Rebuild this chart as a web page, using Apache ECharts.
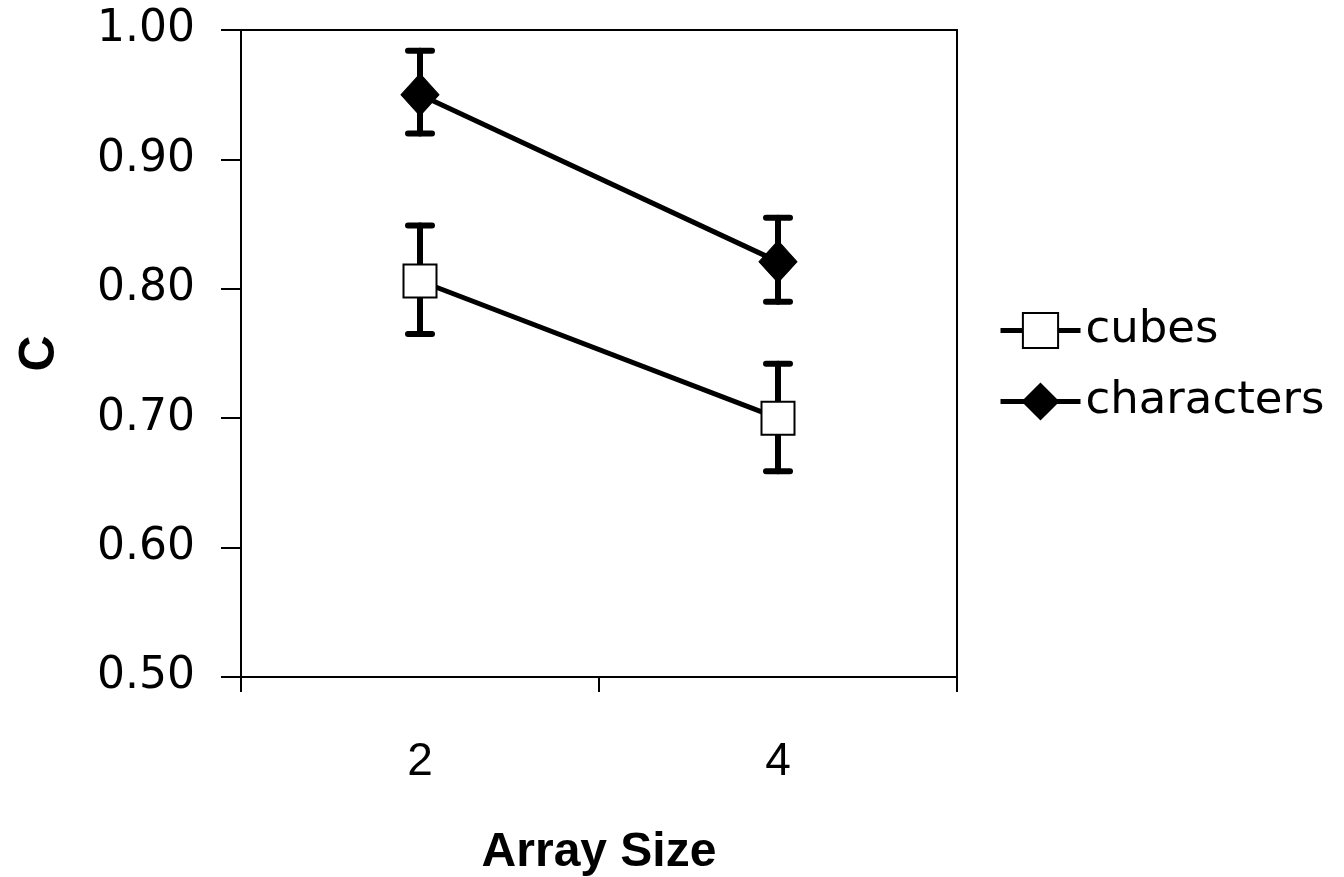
<!DOCTYPE html>
<html>
<head>
<meta charset="utf-8">
<script src="https://cdn.jsdelivr.net/npm/echarts@6/dist/echarts.min.js"></script>
<style>
  html, body { margin: 0; padding: 0; background: #fff; }
</style>
</head>
<body>
<div id="myChart" style="width:1344px;height:877px"></div>
<script>
var categories = ['2', '4'];
var cubes = [0.806, 0.700];
var cubesHigh = [0.849, 0.742];
var cubesLow = [0.765, 0.659];
var characters = [0.950, 0.821];
var charactersHigh = [0.984, 0.855];
var charactersLow = [0.920, 0.790];

var chartDom = document.getElementById('myChart');
var myChart = echarts.init(chartDom);

function errorData(low, high) {
    var out = [];
    for (var i = 0; i < low.length; i++) {
        out.push([i, low[i], high[i]]);
    }
    return out;
}

// vertical bar with caps, drawn under the markers
function renderError(params, api) {
    var x = api.value(0);
    var lo = api.coord([x, api.value(1)]);
    var hi = api.coord([x, api.value(2)]);
    var half = 12;
    var st = { stroke: '#000', lineWidth: 6, lineCap: 'round' };
    return {
        type: 'group',
        children: [
            { type: 'line', shape: { x1: hi[0], y1: hi[1], x2: lo[0], y2: lo[1] }, style: st },
            { type: 'line', shape: { x1: hi[0] - half, y1: hi[1], x2: hi[0] + half, y2: hi[1] }, style: st },
            { type: 'line', shape: { x1: lo[0] - half, y1: lo[1], x2: lo[0] + half, y2: lo[1] }, style: st }
        ]
    };
}

var option = {
    backgroundColor: '#fff',
    animation: false,
    grid: {
        left: 241,
        right: 387,
        top: 30,
        bottom: 200,
        outerBoundsMode: 'none',
        containLabel: false,
        show: true,
        borderColor: '#000',
        borderWidth: 2
    },
    legend: {
        orient: 'vertical',
        left: 993,
        top: 303,
        itemWidth: 80,
        itemHeight: 44,
        itemGap: 26,
        lineStyle: { width: 5, color: '#000' },
        textStyle: { fontFamily: 'DejaVu Sans', fontSize: 45, color: '#000' },
        data: ['cubes', 'characters']
    },
    xAxis: {
        type: 'category',
        data: categories,
        name: 'Array Size',
        nameLocation: 'middle',
        nameGap: 152,
        nameTextStyle: { fontFamily: 'Liberation Sans', fontWeight: 'bold', fontSize: 48, color: '#000' },
        axisLine: { lineStyle: { color: '#000', width: 2 } },
        axisTick: { show: true, alignWithLabel: false, length: 15, lineStyle: { color: '#000', width: 2 } },
        axisLabel: { margin: 62, fontFamily: 'Liberation Sans', fontSize: 46, color: '#000' }
    },
    yAxis: {
        type: 'value',
        min: 0.5,
        max: 1.0,
        interval: 0.1,
        name: 'C',
        nameLocation: 'middle',
        nameGap: 176,
        nameTextStyle: { fontFamily: 'Liberation Sans', fontWeight: 'bold', fontSize: 50, color: '#000' },
        splitLine: { show: false },
        axisLine: { show: true, lineStyle: { color: '#000', width: 2 } },
        axisTick: { show: true, length: 20, lineStyle: { color: '#000', width: 2 } },
        axisLabel: {
            margin: 46,
            fontFamily: 'DejaVu Sans',
            fontSize: 44,
            color: '#000',
            formatter: function (v) { return v.toFixed(2); }
        }
    },
    series: [
        {
            type: 'custom',
            name: 'cubesErr',
            renderItem: renderError,
            data: errorData(cubesLow, cubesHigh),
            z: 1
        },
        {
            type: 'custom',
            name: 'charactersErr',
            renderItem: renderError,
            data: errorData(charactersLow, charactersHigh),
            z: 1
        },
        {
            type: 'line',
            name: 'cubes',
            data: cubes,
            symbol: 'rect',
            symbolSize: 33,
            lineStyle: { color: '#000', width: 5 },
            itemStyle: { color: '#fff', borderColor: '#000', borderWidth: 2 },
            z: 3
        },
        {
            type: 'line',
            name: 'characters',
            data: characters,
            symbol: 'diamond',
            symbolSize: [38, 42],
            lineStyle: { color: '#000', width: 5 },
            itemStyle: { color: '#000', borderColor: '#000', borderWidth: 1 },
            z: 3
        }
    ]
};

option && myChart.setOption(option);
</script>
</body>
</html>
